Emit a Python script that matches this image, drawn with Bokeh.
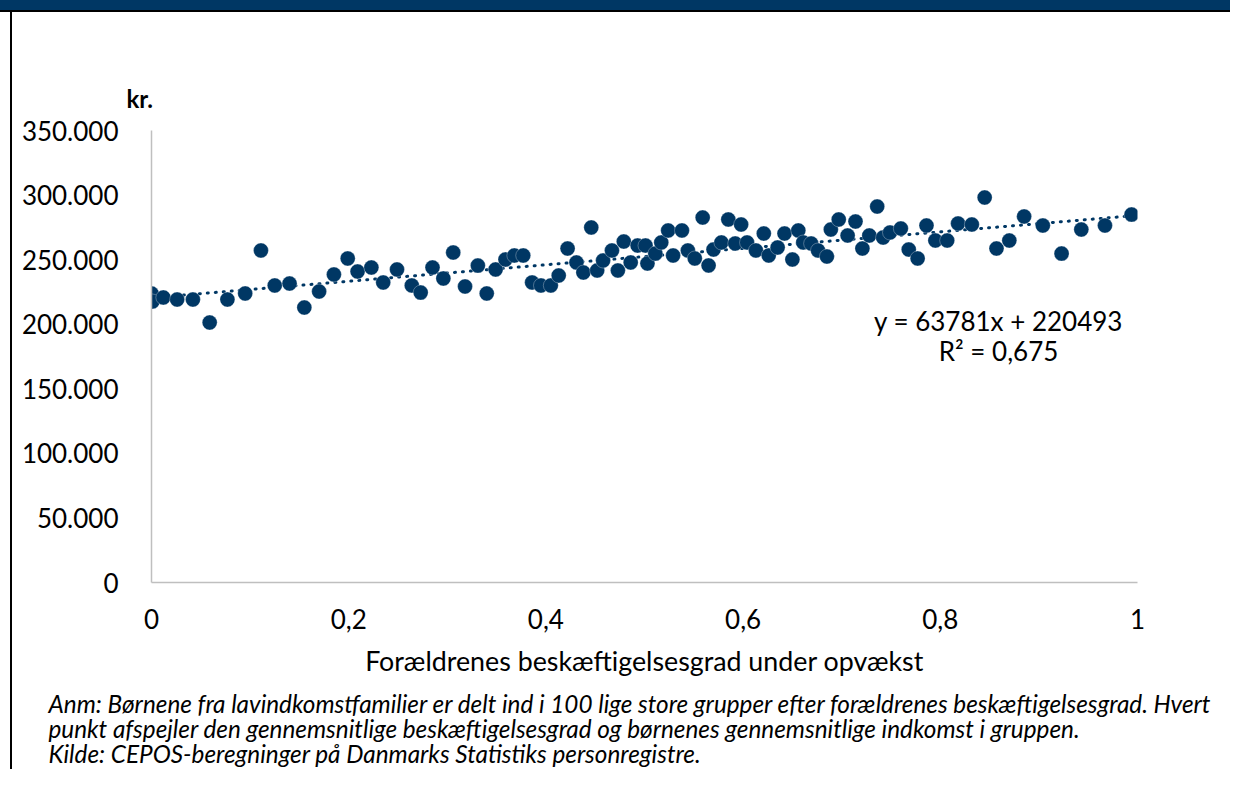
from bokeh.plotting import figure
from bokeh.models import Range1d, FixedTicker, Label, Title
from bokeh.embed import file_html
from bokeh.resources import INLINE

# ---------------- data ----------------
emp_rate = [0.000, 0.001, 0.012, 0.026, 0.042, 0.059, 0.077, 0.095, 0.111, 0.125,
            0.140, 0.155, 0.170, 0.185, 0.199, 0.209, 0.223, 0.235, 0.249,
            0.264, 0.273, 0.285, 0.296, 0.306, 0.318, 0.331, 0.340, 0.349, 0.359,
            0.368, 0.377, 0.386, 0.395, 0.405, 0.413, 0.422, 0.431, 0.438, 0.446,
            0.452, 0.458, 0.467, 0.473, 0.479, 0.486, 0.493, 0.501,
            0.503, 0.511, 0.517, 0.524, 0.529, 0.538, 0.544, 0.551, 0.559, 0.565,
            0.570, 0.578, 0.585, 0.592, 0.598, 0.604, 0.613, 0.621, 0.626, 0.635,
            0.642, 0.650, 0.656, 0.661, 0.669, 0.676, 0.685, 0.689, 0.697, 0.706,
            0.714, 0.721, 0.728, 0.736, 0.742, 0.749,
            0.760, 0.768, 0.777, 0.786, 0.795, 0.807, 0.818, 0.832, 0.845, 0.857,
            0.870, 0.885, 0.904, 0.923, 0.943, 0.967, 0.994]
income = [223800, 217600, 220700, 219100, 219100, 201300, 219100, 223800, 257100, 230000,
          231500, 212900, 225300, 238500, 250900, 240800, 243900, 232300, 242400,
          230000, 224500, 243900, 235400, 255500, 229200, 245400, 223800, 242400, 250100,
          253200, 253200, 232300, 230000, 230000, 237700, 258600, 247800, 240000, 274900,
          241600, 249300, 257100, 241600, 264000, 247800, 260900, 260900,
          247000, 254700, 263300, 272600, 253200, 272600, 257100, 250900, 282600, 245500,
          257800, 263300, 281100, 262500, 277200, 263300, 257100, 270200, 253200, 259400,
          270200, 250100, 272600, 263300, 262500, 257100, 252400, 273300, 281100, 268700,
          279500, 258600, 268700, 291100, 267100, 271000,
          274100, 257800, 250900, 276400, 264800, 264800, 278000, 277200, 298100, 258600,
          264800, 283400, 276400, 254700, 273300, 276400, 284900]

trend_slope = 63781
trend_intercept = 220493
x_ticks = [0, 0.2, 0.4, 0.6, 0.8, 1]
x_tick_labels = ["0", "0,2", "0,4", "0,6", "0,8", "1"]
y_ticks = [0, 50000, 100000, 150000, 200000, 250000, 300000, 350000]
y_tick_labels = ["0", "50.000", "100.000", "150.000", "200.000", "250.000", "300.000", "350.000"]

x_title = "Forældrenes beskæftigelsesgrad under opvækst"
y_unit = "kr."
eq_line1 = "y = 63781x + 220493"
eq_line2 = "R² = 0,675"
notes = [
    "Anm: Børnene fra lavindkomstfamilier er delt ind i 100 lige store grupper efter forældrenes beskæftigelsesgrad. Hvert",
    "punkt afspejler den gennemsnitlige beskæftigelsesgrad og børnenes gennemsnitlige indkomst i gruppen.",
    "Kilde: CEPOS-beregninger på Danmarks Statistiks personregistre.",
]

NAVY = "#003764"
FONT = "Lato"

# ---------------- layout (pixels on canvas) ----------------
W, H = 1230, 769
LEFT, TOP = 151, 130
FW, FH = 986, 452
X0, X1 = 0, 1
Y0, Y1 = 0, 350000


def px_to_x(px):
    return X0 + (px - LEFT) / FW * (X1 - X0)


def py_to_y(py):
    return Y0 + (TOP + FH - py) / FH * (Y1 - Y0)


p = figure(width=W, height=H, x_range=Range1d(X0, X1), y_range=Range1d(Y0, Y1),
           output_backend="svg", toolbar_location=None,
           min_border_left=LEFT, min_border_right=W - LEFT - FW,
           min_border_top=TOP, min_border_bottom=H - TOP - FH)
p.outline_line_color = None
p.grid.visible = False
p.background_fill_color = "white"
p.border_fill_color = None
p.styles = {
    "background-color": "white",
    "background-image": (
        "linear-gradient(to bottom, #003764 0px, #003764 10px, #000000 10px, #000000 12px, rgba(0,0,0,0) 12px), "
        "linear-gradient(to right, rgba(0,0,0,0) 10px, #000000 10px, #000000 12px, rgba(0,0,0,0) 12px)"
    ),
}

for ax in (p.xaxis[0], p.yaxis[0]):
    ax.axis_line_color = "#BFBFBF"
    ax.axis_line_width = 1.5
    ax.major_tick_line_color = None
    ax.minor_tick_line_color = None
    ax.major_tick_out = 0
    ax.major_tick_in = 0
    ax.minor_tick_out = 0
    ax.major_label_text_font = FONT
    ax.major_label_text_font_size = "26px"
    ax.major_label_text_color = "#000000"

p.xaxis.ticker = FixedTicker(ticks=x_ticks)
p.xaxis.major_label_overrides = {t: l for t, l in zip(x_ticks, x_tick_labels)}
p.xaxis.major_label_standoff = 26
p.xaxis.axis_label = x_title
p.xaxis.axis_label_text_font = FONT
p.xaxis.axis_label_text_font_size = "26.8px"
p.xaxis.axis_label_text_font_style = "normal"
p.xaxis.axis_label_text_color = "#000000"
p.xaxis.axis_label_standoff = 13

p.yaxis.ticker = FixedTicker(ticks=y_ticks)
p.yaxis.major_label_overrides = {t: l for t, l in zip(y_ticks, y_tick_labels)}
p.yaxis.major_label_standoff = 33

# unit label as the plot title
p.title.text = y_unit
p.title.align = "left"
p.title.offset = -25
p.title.vertical_align = "top"
p.title.text_font = FONT
p.title.text_font_size = "24px"
p.title.text_font_style = "bold"
p.title.text_color = "#000000"
p.title.standoff = 31

# small spacer, then the notes below the x axis
p.add_layout(Title(text=" ", text_font_size="7px", standoff=0), "below")
p.add_layout(Title(text="\n".join(notes), align="left", offset=-103, vertical_align="top",
                   text_font=FONT, text_font_size="24.3px", text_font_style="italic",
                   text_color="#000000", text_line_height=0.87, standoff=0), "below")

# trendline
tx = [min(emp_rate), max(emp_rate)]
ty = [trend_intercept + trend_slope * v for v in tx]
p.line(tx, ty, line_color=NAVY, line_width=3, line_dash="1 7", line_cap="round")

# points
p.scatter(emp_rate, income, size=15, fill_color=NAVY, line_color="white",
          line_width=0.6, line_alpha=0.5)

# equation
for txt, base in ((eq_line1, 320), (eq_line2, 350)):
    p.add_layout(Label(x=px_to_x(998), y=py_to_y(base), text=txt, text_align="center",
                       text_baseline="alphabetic", text_font=FONT, text_font_size="26px",
                       text_color="#000000"))

open("out.html", "w").write(file_html(p, INLINE))
